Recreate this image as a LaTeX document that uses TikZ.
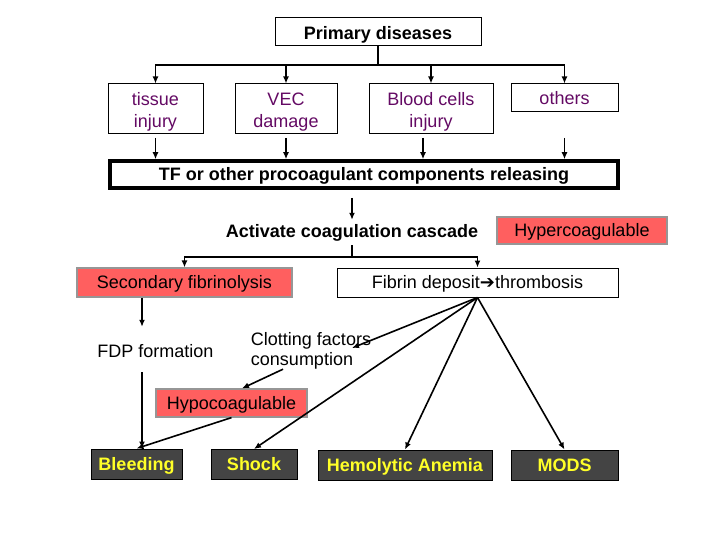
\documentclass[tikz,border=0pt]{standalone}
\usepackage{fontspec}
\setmainfont{Liberation Sans}
\newfontfamily\dejavu{DejaVu Sans}
\usetikzlibrary{arrows.meta}
\definecolor{purp}{RGB}{100,10,100}
\definecolor{redfill}{RGB}{255,95,95}
\definecolor{redline}{RGB}{150,150,150}
\definecolor{darkfill}{RGB}{68,68,68}
\definecolor{yel}{RGB}{255,255,40}
\newcommand{\firstline}[1][17.8pt]{\rule{0pt}{#1}}
\begin{document}
\begin{tikzpicture}[x=1pt,y=-1pt,
  every node/.style={font=\fontsize{18}{22}\selectfont, inner sep=0pt, align=center},
  oneline/.style={text height=14pt, text depth=2pt},
  lowline/.style={text height=16pt, text depth=0pt},
  arr/.style={line width=1.6pt, -{Latex[length=7pt,width=6pt]}},
  plain/.style={line width=1.6pt},
  bold/.style={font=\fontsize{18}{22}\selectfont\bfseries},
  whitebox/.style={draw, line width=1pt, fill=white},
  purplebox/.style={whitebox, text=purp},
  redbox/.style={draw=redline, line width=1.2pt, fill=redfill, oneline},
  darkbox/.style={draw=black, line width=1pt, fill=darkfill, text=yel, oneline, font=\fontsize{18}{22}\selectfont\bfseries},
]
\fill[white] (0,0) rectangle (720,540);
\useasboundingbox (0,0) rectangle (720,540);

% nodes
\node[whitebox, bold, lowline, minimum width=206pt, minimum height=28pt] (prim) at (378,32) {Primary diseases};
\node[purplebox, minimum width=95pt, minimum height=50pt] (tissue) at (155.5,109) {\firstline tissue\\injury};
\node[purplebox, minimum width=102pt, minimum height=50pt] (vec) at (286,109) {\firstline VEC\\damage};
\node[purplebox, minimum width=124pt, minimum height=50pt] (blood) at (431,109) {\firstline Blood cells\\injury};
\node[purplebox, text height=15pt, text depth=1pt, minimum width=107pt, minimum height=28pt] (others) at (564.5,98) {others};
\node[draw, line width=3.5pt, bold, text height=14.5pt, text depth=1.5pt, minimum width=508pt, minimum height=27pt] (tf) at (364,174.5) {TF or other procoagulant components releasing};
\node[bold, oneline, minimum width=252pt, minimum height=22pt] (act) at (352,231) {Activate coagulation cascade};
\node[redbox, minimum width=170pt, minimum height=27pt] (hyper) at (582,230.5) {Hypercoagulable};
\node[redbox, minimum width=215pt, minimum height=29pt] (sec) at (184.5,282.5) {Secondary fibrinolysis};
\node[whitebox, oneline, minimum width=281pt, minimum height=29pt] (fib) at (477.5,282.5) {Fibrin deposit{\dejavu\bfseries ➔}thrombosis};
\node[oneline, minimum width=120pt, minimum height=48pt] (fdp) at (155.5,351) {FDP formation};
\node[align=left, minimum height=40pt] (clot) at (311,349) {\firstline[15.8pt]Clotting factors\\[-2pt]consumption};
\node[redbox, minimum width=151pt, minimum height=28pt] (hypo) at (231.5,403) {Hypocoagulable};
\node[darkbox, minimum width=91pt, minimum height=30pt] (bleed) at (136.5,464) {Bleeding};
\node[darkbox, minimum width=86pt, minimum height=30pt] (shock) at (254,464.5) {Shock};
\node[darkbox, minimum width=174pt, minimum height=30pt] (hemo) at (405,465) {Hemolytic Anemia};
\node[darkbox, minimum width=107pt, minimum height=30pt] (mods) at (564.5,465) {MODS};

% coordinates
\coordinate (hub) at (378,65);
\coordinate (lrow) at (0,138);
\coordinate (bl) at (423,138);
\coordinate (ta) at (352,198);
\coordinate (aj) at (352,257);

% connectors
\draw[plain] (prim.south) -- (hub);
\foreach \n in {tissue,vec,blood,others} \draw[arr] (hub) -| (\n.north);
\foreach \n in {tissue,vec,others} \draw[arr] (\n.south |- lrow) -- (\n.south |- tf.north);
\draw[arr] (bl) -- (bl |- tf.north);
\draw[arr] (ta) -- (act.north);
\draw[plain] ([yshift=-3pt]act.south) -- (aj);
\draw[arr] (aj) -| (sec.north);
\draw[arr] (aj) -| (fib.north);
\draw[arr] ([xshift=-42.5pt]sec.south) -- ([xshift=-13.5pt]fdp.north);
\draw[arr] ([xshift=-13.5pt,yshift=3pt]fdp.south) -- ([xshift=5.5pt]bleed.north);
\draw[arr] (fib.south) -- ([xshift=41pt,yshift=1pt]clot.center);
\draw[arr] ([xshift=-28pt]clot.south) -- ([xshift=10.5pt]hypo.north);
\draw[arr] (hypo.south) -- (bleed.north);
\draw[arr] (fib.south) -- (shock.north);
\draw[arr] (fib.south) -- (hemo.north);
\draw[arr] (fib.south) -- (mods.north);
\end{tikzpicture}
\end{document}
